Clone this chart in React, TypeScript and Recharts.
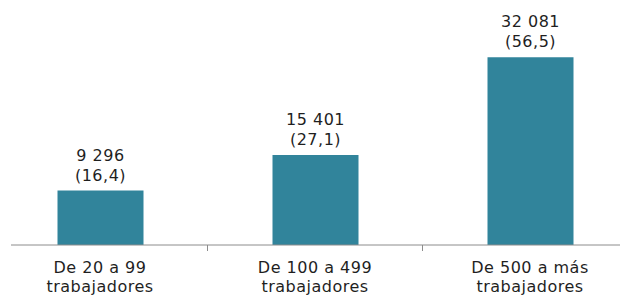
import { BarChart, Bar, XAxis, YAxis, LabelList } from "recharts"

const categories = ["De 20 a 99 trabajadores", "De 100 a 499 trabajadores", "De 500 a más trabajadores"]
const workers = [9296, 15401, 32081]
const shares = ["16,4", "27,1", "56,5"]

const data = categories.map((c, i) => ({ name: c, value: workers[i], share: shares[i] }))

const FONT = "'DejaVu Sans', Verdana, sans-serif"
const INK = "#1f1f1f"

const fmt = (n: number) => String(n).replace(/\B(?=(\d{3})+(?!\d))/g, " ")

function CatTick(props: any) {
    const { x, y, payload } = props
    const label: string = payload.value
    const cut = label.lastIndexOf(" ")
    const half = payload.offset ?? 0
    return (
        <g>
            <line x1={x + half} x2={x + half} y1={y} y2={y + 6} stroke="#8c8c8c" />
            <text x={x} textAnchor="middle" fill={INK} fontFamily={FONT} fontSize={16} letterSpacing={0.5}>
                <tspan x={x} y={y + 28}>{label.slice(0, cut)}</tspan>
                <tspan x={x} y={y + 47}>{label.slice(cut + 1)}</tspan>
            </text>
        </g>
    )
}

function ValueLabel(props: any) {
    const { x, y, width, index } = props
    const cx = x + width / 2
    return (
        <text textAnchor="middle" fill={INK} fontFamily={FONT} fontSize={16} letterSpacing={0.5}>
            <tspan x={cx} y={y - 30}>{fmt(workers[index])}</tspan>
            <tspan x={cx} y={y - 10}>({shares[index]})</tspan>
        </text>
    )
}

export default function App() {
    return (
        <div style={{ position: "absolute", left: 0, top: 0, background: "#fff" }}>
            <BarChart width={623} height={295} data={data} margin={{ top: 11, right: 3, left: 11, bottom: 0 }}>
                <XAxis dataKey="name" height={50} interval={0} tickLine={false} tickSize={0} tickMargin={0}
                    padding={{ left: -18.5, right: -17.5 }}
                    axisLine={{ stroke: "#8c8c8c" }} tick={<CatTick />} />
                <YAxis hide domain={[0, 40000]} />
                <Bar dataKey="value" fill="#31849b" barSize={86} isAnimationActive={false}>
                    <LabelList dataKey="value" content={<ValueLabel />} />
                </Bar>
            </BarChart>
        </div>
    )
}
